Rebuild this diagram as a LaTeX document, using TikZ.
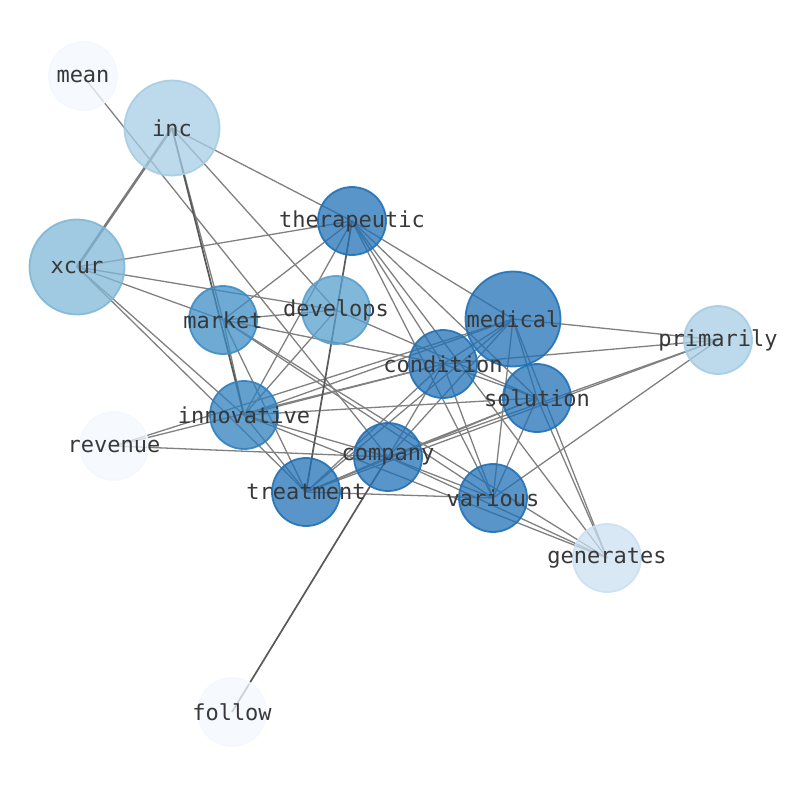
\documentclass[tikz,border=0pt]{standalone}
\usepackage{fontspec}
\setmonofont{DejaVu Sans Mono}
\pgfdeclarelayer{edges}
\pgfsetlayers{edges,main}
\definecolor{deglow}{HTML}{F3F8FE}
\definecolor{deggen}{HTML}{CCE0F2}
\definecolor{degprim}{HTML}{A6CDE4}
\definecolor{degxcur}{HTML}{80B7D8}
\definecolor{degdev}{HTML}{57A0CE}
\definecolor{degmark}{HTML}{3D8DC4}
\definecolor{deginno}{HTML}{3080BE}
\definecolor{deghigh}{HTML}{2171B5}
\definecolor{wordtext}{HTML}{383838}
\tikzset{
  bubble/.style={circle, inner sep=0pt, minimum size=#1, line width=1.8pt},
  word/.style={font=\ttfamily\fontsize{22}{24}\selectfont, text=wordtext, inner sep=0pt},
  edge/.style={draw=black!50, line width=1.3pt},
  heavy/.style={draw=black!52, line width=2.6pt},
  dark/.style={draw=black!65, line width=1.7pt}
}
\begin{document}
\begin{tikzpicture}[x=1pt,y=-1pt]
\useasboundingbox (0,0) rectangle (794,790);
\foreach \w/\x/\y/\r/\c in {mean/83/76/68/deglow, inc/172/128/95/degprim, xcur/77/267/95/degxcur,
    therapeutic/352/221/68/deghigh, develops/336/310/68/degdev, market/223/320/68/degmark,
    medical/513/319/95/deghigh, primarily/718/340/68/degprim, condition/443/364/68/deghigh,
    solution/537/398/68/deghigh, innovative/244/415/68/deginno, revenue/114/446/68/deglow,
    company/388/457/68/deghigh, treatment/306/492/68/deghigh, various/493/498/68/deghigh,
    generates/607/558/68/deggen, follow/232/712/68/deglow}
{
  \node[bubble=\r pt, draw=\c, fill=\c, fill opacity=0.75, draw opacity=0.9] (\w) at (\x,\y) {};
  \node[word] (\w-t) at (\w) {\w};
}
\begin{pgfonlayer}{edges}
\foreach \a/\b in {mean/company, inc/therapeutic, inc/market, inc/develops,
    xcur/therapeutic, xcur/develops, xcur/market, xcur/innovative, xcur/treatment,
    therapeutic/market, therapeutic/innovative, therapeutic/medical, therapeutic/condition,
    therapeutic/solution, therapeutic/various, therapeutic/generates,
    develops/market, develops/innovative, develops/solution,
    market/condition, market/various, market/innovative, market/treatment, market/generates,
    medical/primarily, medical/condition, medical/solution, medical/various, medical/generates,
    medical/innovative, medical/revenue, medical/treatment, medical/company,
    primarily/condition, primarily/various, primarily/company, primarily/treatment,
    condition/solution, condition/various, condition/company, condition/treatment,
    condition/innovative, condition/revenue,
    innovative/solution, innovative/treatment, innovative/company, innovative/generates,
    revenue/company, company/solution, company/various, company/generates, company/treatment,
    treatment/solution, treatment/various, various/solution, solution/generates}
  \draw[edge] (\a.center) -- (\b.center);
\draw[heavy] (inc.center) -- (xcur.center);
\draw[dark] (inc.center) -- (innovative.center);
\draw[dark] (therapeutic.center) -- (treatment.center);
\draw[dark] (company.center) -- (follow.center);
\end{pgfonlayer}
\end{tikzpicture}
\end{document}
